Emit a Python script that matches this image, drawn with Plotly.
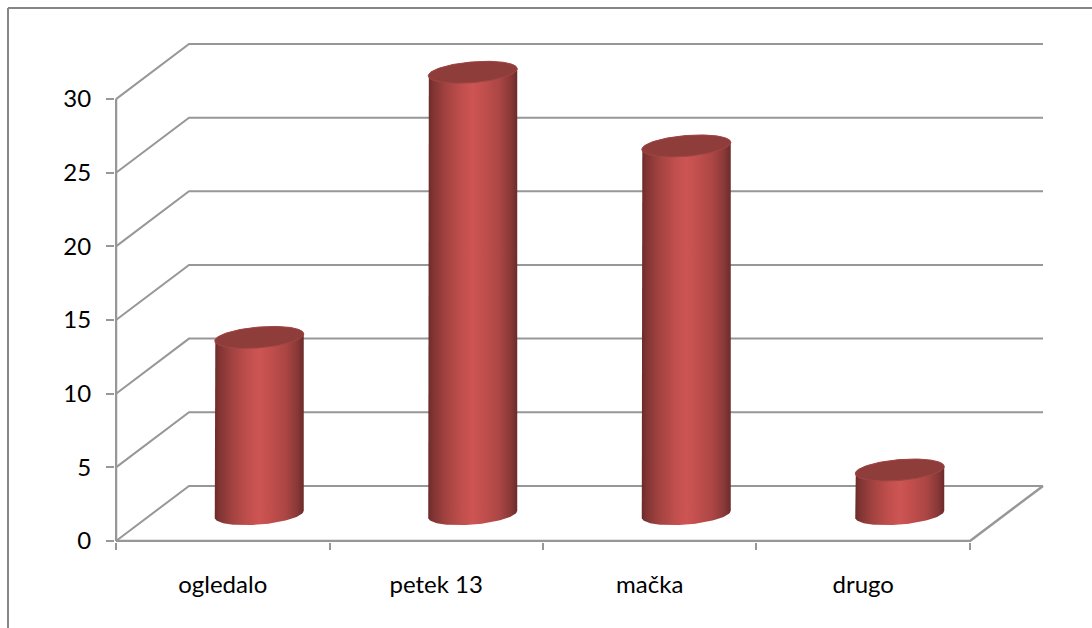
import numpy as np
import plotly.graph_objects as go

categories = ["ogledalo", "petek 13", "mačka", "drugo"]
values = [12, 30, 25, 3]
y_ticks = [0, 5, 10, 15, 20, 25, 30]

W, H = 1092, 628
L, R, T, B = 115, 48, 43, 86
DX, DY = 0.342, 3.74          # depth offset in axis units
PADX, PADY = 1 / 213.5, 1 / 14.73  # one pixel of room so edge lines are not clipped
XMAX, YMAX = len(categories) + DX, y_ticks[-1] + DY
GRID = "#979797"
FONT = dict(family="Lato, Carlito, sans-serif", size=24, color="#000000")

fig = go.Figure()


def grid(xs, ys, width=2):
    fig.add_trace(go.Scatter(x=xs, y=ys, mode="lines", hoverinfo="skip",
                             line=dict(color=GRID, width=width), showlegend=False))


for v in y_ticks:
    grid([0, DX, XMAX], [v, v + DY, v + DY])
grid([0, 0], [0, y_ticks[-1]], width=2.5)
grid([0, len(categories), XMAX], [0, 0, DY], width=2.5)

A, TILT, K = 0.2084, 0.24, 0.706   # ellipse half-width, skew and half-height
BODY = [[0, "#6b2a29"], [0.05, "#7f3432"], [0.2, "#a34341"], [0.38, "#c14f4d"],
        [0.5, "#cd5553"], [0.62, "#c24f4d"], [0.8, "#ab4644"], [0.93, "#883837"], [1, "#6a2b2a"]]
t = np.linspace(0, 2 * np.pi, 121)


def ellipse(cx, cy, th):
    return cx + A * np.cos(th), cy + TILT * np.cos(th) + K * np.sin(th)


for i, v in enumerate(values):
    cx, cy0 = i + 0.5 + DX / 2, DY / 2 - 0.05
    low = np.linspace(0, -np.pi, 61)
    high = np.linspace(np.pi, 0, 61)
    bx, by = ellipse(cx, cy0, low)
    tx, ty = ellipse(cx, cy0 + v, high)
    fig.add_trace(go.Scatter(
        x=np.r_[bx, tx], y=np.r_[by, ty], mode="lines", fill="toself", line=dict(width=0),
        fillgradient=dict(type="horizontal", colorscale=BODY), hoverinfo="skip", showlegend=False))
    ex, ey = ellipse(cx, cy0 + v, t)
    fig.add_trace(go.Scatter(
        x=ex, y=ey, mode="lines", fill="toself", fillcolor="#8f3d3b",
        line=dict(width=1, color="#a04644"), hoverinfo="skip", showlegend=False))

PW, PH = W - L - R, H - T - B
fx = lambda px: (px - L) / PW
fy = lambda py: (H - B - py) / PH

fig.update_layout(
    width=W, height=H, margin=dict(l=L, r=R, t=T, b=B), autosize=False,
    plot_bgcolor="white", paper_bgcolor="white", showlegend=False, font=FONT,
    xaxis=dict(range=[-PADX, XMAX + PADX], showgrid=False, zeroline=False, showline=False,
               tickmode="array", tickvals=[i + 0.5 for i in range(len(categories))],
               ticktext=categories, ticks="", ticklabelstandoff=26, tickfont=FONT,
               minor=dict(tickmode="array", tickvals=list(range(len(categories) + 1)),
                          ticks="outside", ticklen=7, tickwidth=2, tickcolor=GRID, showgrid=False)),
    yaxis=dict(range=[-PADY, YMAX + PADY], showgrid=False, zeroline=False, showline=False,
               tickmode="array", tickvals=y_ticks, ticks="outside", ticklen=8,
               tickwidth=2, tickcolor=GRID, ticklabelstandoff=10, tickfont=FONT),
    shapes=[
        dict(type="line", xref="paper", yref="paper", layer="below",
             x0=fx(8), x1=fx(W), y0=fy(8), y1=fy(8),
             line=dict(color="#868686", width=2)),
        dict(type="line", xref="paper", yref="paper", layer="below",
             x0=fx(8), x1=fx(8), y0=fy(8), y1=fy(H),
             line=dict(color="#868686", width=2)),
    ],
)

fig.write_html("out.html", config=dict(displayModeBar=False),
               post_script="document.body.style.margin='0';")
